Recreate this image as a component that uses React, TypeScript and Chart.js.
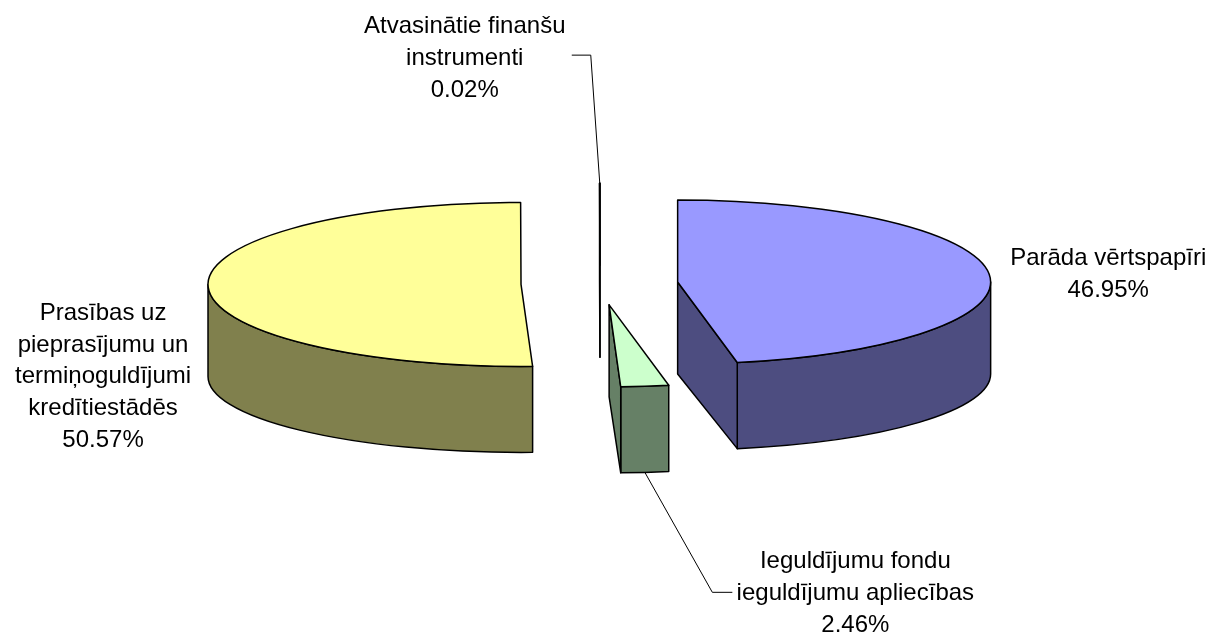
import React, { useEffect, useRef } from 'react';
import { Chart, registerables } from 'chart.js';

Chart.register(...registerables);

// ---- data ----
const categories: string[][] = [
  ['Parāda vērtspapīri'],
  ['Ieguldījumu fondu', 'ieguldījumu apliecības'],
  ['Prasības uz', 'pieprasījumu un', 'termiņoguldījumi', 'kredītiestādēs'],
  ['Atvasinātie finanšu', 'instrumenti'],
];
const shares: number[] = [46.95, 2.46, 50.57, 0.02];

// ---- styles ----
const topColors = ['#9999FF', '#CCFFCC', '#FFFF99', '#CCFFFF'];
const sideColors = ['#4D4D80', '#668066', '#80804D', '#668080'];
const explode = [78, 80, 79, 72];

const RADIUS = 313;
const TILT_TOP = 82 / 313;
const TILT_BOTTOM = 76 / 313;
const DEPTH = 92;
const FONT = '24px "Liberation Sans", Arial, Helvetica, sans-serif';
const LINE_H = 31.75;

// label placement relative to an anchor point on each slice
// anchor: 'top' = outer point of top face at mid angle, 'bottom' = outer point of bottom rim
const labelLayout = [
  { anchor: 'top', dx: 119, dy: -9, leader: [] as number[][] },
  { anchor: 'bottom', dx: 210.5, dy: 96, leader: [[67.5, 120], [87.5, 120]] },
  { anchor: 'top', dx: -105, dy: 34, leader: [] as number[][] },
  { anchor: 'top', dx: -135, dy: -150, leader: [[-9, -128], [-28, -128]] },
];

const pie3d = {
  id: 'pie3d',
  beforeDatasetsDraw(chart: any) {
    const ctx: CanvasRenderingContext2D = chart.ctx;
    const meta = chart.getDatasetMeta(0);
    const slices = meta.data.map((arc: any, i: number) => {
      const p = arc.getProps(['x', 'y', 'startAngle', 'endAngle', 'outerRadius'], true);
      const off = arc.options.offset || 0;
      const mid = (p.startAngle + p.endAngle) / 2;
      const cx = p.x + Math.cos(mid) * off;
      const cy = p.y + Math.sin(mid) * off * TILT_TOP;
      return { i, a0: p.startAngle, a1: p.endAngle, mid, cx, cy, R: p.outerRadius };
    });

    ctx.save();
    ctx.lineWidth = 1.5;
    ctx.strokeStyle = '#000';
    ctx.lineJoin = 'round';

    const order = [...slices].sort((a, b) => Math.sin(a.mid) - Math.sin(b.mid));
    for (const s of order) {
      const { cx, cy, R, a0, a1, i } = s;
      const ryT = R * TILT_TOP;
      const ryB = R * TILT_BOTTOM;
      const top = (a: number) => [cx + R * Math.cos(a), cy + ryT * Math.sin(a)];
      const bot = (a: number) => [cx + R * Math.cos(a), cy + DEPTH + ryB * Math.sin(a)];

      // outer wall (front half only)
      const t0 = Math.max(a0, 0);
      const t1 = Math.min(a1, Math.PI);
      if (t1 > t0) {
        ctx.beginPath();
        ctx.ellipse(cx, cy, R, ryT, 0, t0, t1, false);
        ctx.ellipse(cx, cy + DEPTH, R, ryB, 0, t1, t0, true);
        ctx.closePath();
        ctx.fillStyle = sideColors[i];
        ctx.fill();
        ctx.stroke();
      }
      // radial cut faces
      const face = (a: number) => {
        const pt = top(a);
        const pb = bot(a);
        ctx.beginPath();
        ctx.moveTo(cx, cy);
        ctx.lineTo(pt[0], pt[1]);
        ctx.lineTo(pb[0], pb[1]);
        ctx.lineTo(cx, cy + DEPTH);
        ctx.closePath();
        ctx.fillStyle = sideColors[i];
        ctx.fill();
        ctx.stroke();
      };
      if (Math.cos(a0) < 0) face(a0);
      if (Math.cos(a1) > 0) face(a1);

      // top face
      ctx.beginPath();
      ctx.moveTo(cx, cy);
      ctx.ellipse(cx, cy, R, ryT, 0, a0, a1, false);
      ctx.closePath();
      ctx.fillStyle = topColors[i];
      ctx.fill();
      ctx.stroke();
    }

    // labels
    ctx.font = FONT;
    ctx.fillStyle = '#000';
    ctx.textAlign = 'center';
    ctx.textBaseline = 'alphabetic';
    slices.forEach((s: any) => {
      const lay = labelLayout[s.i];
      const R = s.R;
      const ax = s.cx + R * Math.cos(s.mid);
      const ay = lay.anchor === 'bottom'
        ? s.cy + DEPTH + R * TILT_BOTTOM * Math.sin(s.mid)
        : s.cy + R * TILT_TOP * Math.sin(s.mid);
      const lines = [...chart.data.labels[s.i], shares[s.i].toFixed(2) + '%'];
      lines.forEach((t: string, k: number) => {
        ctx.fillText(t, ax + lay.dx, ay + lay.dy + k * LINE_H);
      });
      if (lay.leader.length) {
        ctx.beginPath();
        ctx.lineWidth = 1;
        ctx.moveTo(ax, ay);
        lay.leader.forEach((p) => ctx.lineTo(ax + p[0], ay + p[1]));
        ctx.stroke();
      }
    });
    ctx.restore();
    return false;
  },
};

export default function App() {
  const ref = useRef<HTMLCanvasElement | null>(null);
  useEffect(() => {
    if (!ref.current) return;
    const chart = new Chart(ref.current, {
      type: 'pie',
      data: {
        labels: categories,
        datasets: [
          {
            data: shares,
            backgroundColor: topColors,
            offset: explode,
            borderWidth: 0,
          },
        ],
      },
      options: {
        responsive: false,
        maintainAspectRatio: false,
        devicePixelRatio: 1,
        animation: false,
        radius: RADIUS,
        layout: { padding: { left: 0, right: 12, top: 0, bottom: 67 } },
        plugins: { legend: { display: false }, tooltip: { enabled: false } },
      } as any,
      plugins: [pie3d],
    });
    return () => chart.destroy();
  }, []);
  return (
    <div style={{ position: 'absolute', left: 0, top: 0, width: 1212, height: 635, background: '#fff' }}>
      <canvas ref={ref} width={1212} height={635} style={{ display: 'block' }} />
    </div>
  );
}
